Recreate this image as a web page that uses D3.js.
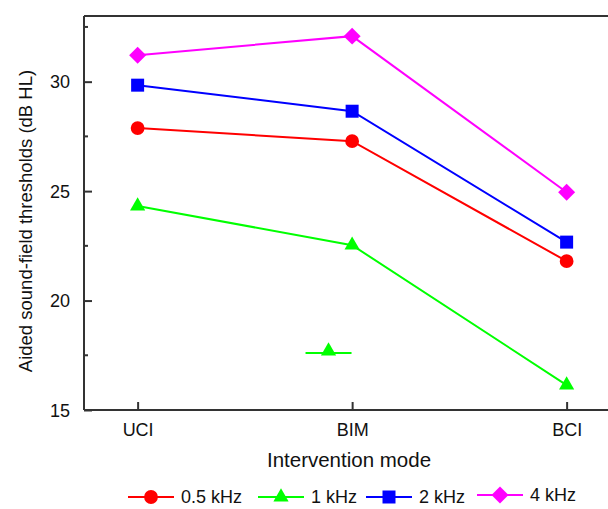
<html><head>
<title>Aided sound-field thresholds</title>
<style>
body { margin: 0; background: #fff; }
svg { display: block; font-family: "Liberation Sans", Arial, sans-serif; }
.axis path, .axis line { stroke: #333; stroke-width: 2px; }
</style>
<script src="https://d3js.org/d3.v7.min.js"></script>
</head>
<body>
<svg id="chart" width="608" height="509"></svg>
<script>
// data
const modes = ["UCI", "BIM", "BCI"];
const seriesNames = ["0.5 kHz", "1 kHz", "2 kHz", "4 kHz"];
const seriesColors = ["#ff0000", "#00ff00", "#0000ff", "#ff00ff"];
const seriesShapes = ["circle", "triangle", "square", "diamond"];
const v05 = [27.88, 27.28, 21.8];
const v1 = [24.32, 22.53, 16.14];
const v2 = [29.84, 28.65, 22.67];
const v4 = [31.21, 32.08, 24.95];
const allValues = [v05, v1, v2, v4];
// a stray 1 kHz glyph left inside the plot area
const strayPos = 0.89, strayVal = 17.6;
const yMajor = [15, 20, 25, 30];
const yMinor = [17.5, 22.5, 27.5, 32.5];

const svg = d3.select("#chart");
const plotLeft = 84, plotTop = 16, plotBottom = 410;

const x = d3.scaleLinear().domain([-0.25, 2.25]).range([plotLeft, plotLeft + 2.5 * 214.5]);
const y = d3.scaleLinear().domain([15, 33]).range([plotBottom, plotTop]);

// shape generator; diamond is a square turned 45 degrees
const symbolSize = { circle: 150, triangle: 100, square: 169, diamond: 144 };
const symbolType = { circle: d3.symbolCircle, triangle: d3.symbolTriangle, square: d3.symbolSquare, diamond: d3.symbolSquare };
function sym(shape) { return d3.symbol().type(symbolType[shape]).size(symbolSize[shape])(); }
function rot(shape) { return shape === "diamond" ? " rotate(45)" : ""; }

// top frame line
svg.append("line").attr("x1", plotLeft).attr("x2", 608).attr("y1", plotTop).attr("y2", plotTop)
    .attr("stroke", "#333").attr("stroke-width", 2);

// y axis, ticks pointing inward
const yAx = svg.append("g").attr("class", "axis").attr("transform", `translate(${plotLeft},0)`)
    .call(d3.axisRight(y).tickValues(yMajor).tickSize(8).tickFormat(d3.format("d")));
yAx.select(".domain").attr("d", `M0,${plotTop}V${plotBottom}`);
yAx.selectAll("text").attr("x", -14).attr("text-anchor", "end")
    .style("font-size", "18px").attr("fill", "#111").attr("dy", "0.35em");
yAx.selectAll(".minor").data(yMinor).enter().append("line").attr("class", "minor")
    .attr("x1", 0).attr("x2", 4).attr("y1", d => y(d)).attr("y2", d => y(d));

// x axis, ticks pointing inward
const xAx = svg.append("g").attr("class", "axis").attr("transform", `translate(0,${plotBottom})`)
    .call(d3.axisTop(x).tickValues([0, 1, 2]).tickSize(8).tickFormat(i => modes[i]));
xAx.select(".domain").attr("d", `M${plotLeft},0H608`);
xAx.selectAll("text").attr("y", 26).attr("dy", 0).style("font-size", "18px").attr("fill", "#111");

// titles
svg.append("text").attr("x", 349).attr("y", 467).attr("text-anchor", "middle")
    .style("font-size", "20.5px").attr("fill", "#111").text("Intervention mode");
svg.append("text").attr("transform", `translate(32,221) rotate(-90)`)
    .attr("text-anchor", "middle").style("font-size", "18.5px").attr("fill", "#111")
    .text("Aided sound-field thresholds (dB HL)");

const line = d3.line().x((d, i) => x(i)).y(d => y(d));

allValues.forEach((vals, s) => {
    svg.append("path").datum(vals).attr("d", line).attr("fill", "none")
        .attr("stroke", seriesColors[s]).attr("stroke-width", 2);
    svg.selectAll(null).data(vals).enter().append("path")
        .attr("d", sym(seriesShapes[s]))
        .attr("transform", (d, i) => `translate(${x(i)},${y(d)})` + rot(seriesShapes[s]))
        .attr("fill", seriesColors[s]);
});

// stray glyph
const sx = x(strayPos), sy = y(strayVal);
svg.append("line").attr("x1", sx - 23).attr("x2", sx + 23).attr("y1", sy).attr("y2", sy)
    .attr("stroke", seriesColors[1]).attr("stroke-width", 2);
svg.append("path").attr("d", sym("triangle")).attr("transform", `translate(${sx},${sy - 2})`)
    .attr("fill", seriesColors[1]);

// legend
const legX = [151, 281, 389, 500];
const legY = [497, 497, 497, 495];
seriesNames.forEach((name, s) => {
    const g = svg.append("g").attr("transform", `translate(${legX[s]},${legY[s]})`);
    g.append("line").attr("x1", -23).attr("x2", 23).attr("stroke", seriesColors[s]).attr("stroke-width", 2);
    g.append("path").attr("d", sym(seriesShapes[s])).attr("transform", rot(seriesShapes[s]).trim())
        .attr("fill", seriesColors[s]);
    g.append("text").attr("x", 30).attr("dy", "0.35em").style("font-size", "18px")
        .attr("fill", "#111").text(name);
});
</script>
</body></html>
